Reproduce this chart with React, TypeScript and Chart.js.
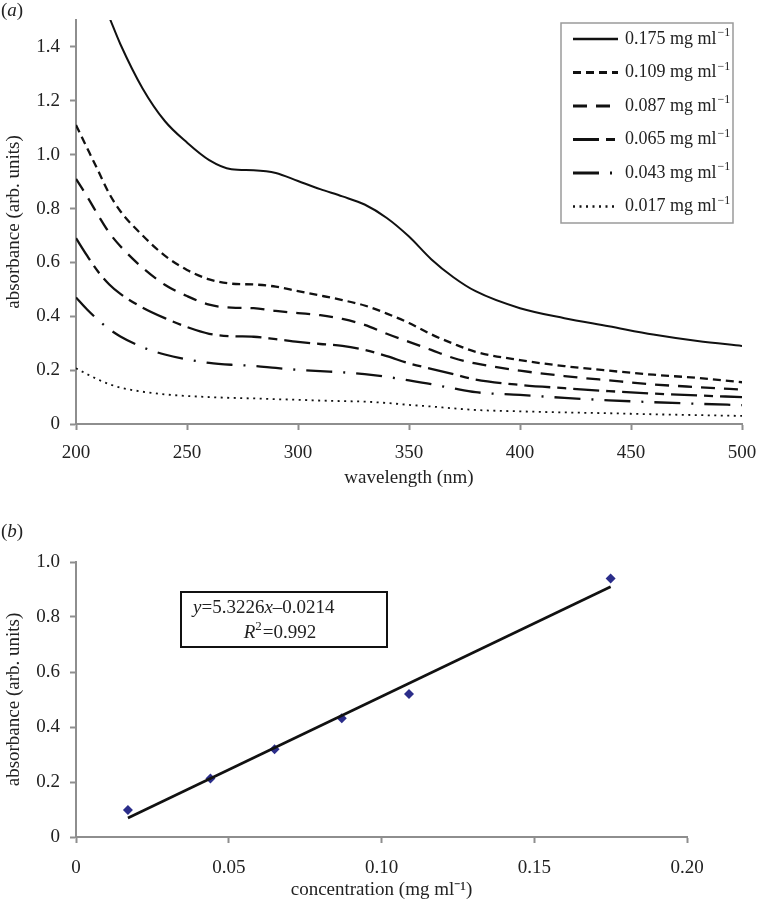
import React, { useEffect, useRef } from 'react';
import { Chart, registerables } from 'chart.js';
Chart.register(...registerables);

// ---------- data: panel (a) ----------
const wavelengths = [200, 205, 210, 215, 220, 230, 240, 250, 260, 270, 280, 290, 300, 310, 320, 330, 340, 350, 360, 370, 380, 400, 420, 440, 460, 480, 500];
const abs175 = [null, null, null, 1.51, 1.41, 1.246, 1.125, 1.045, 0.98, 0.946, 0.942, 0.932, 0.902, 0.872, 0.845, 0.815, 0.765, 0.696, 0.612, 0.545, 0.493, 0.43, 0.393, 0.363, 0.332, 0.308, 0.29];
const abs109 = [1.11, 1.025, 0.94, 0.855, 0.79, 0.7, 0.625, 0.572, 0.537, 0.521, 0.518, 0.51, 0.493, 0.477, 0.46, 0.44, 0.41, 0.375, 0.333, 0.298, 0.268, 0.237, 0.215, 0.198, 0.183, 0.171, 0.155];
const abs087 = [0.91, 0.845, 0.775, 0.71, 0.66, 0.58, 0.517, 0.475, 0.443, 0.432, 0.43, 0.42, 0.412, 0.404, 0.39, 0.368, 0.335, 0.305, 0.275, 0.245, 0.225, 0.198, 0.178, 0.162, 0.147, 0.137, 0.128];
const abs065 = [0.69, 0.625, 0.565, 0.518, 0.483, 0.432, 0.393, 0.36, 0.335, 0.326, 0.324, 0.315, 0.305, 0.297, 0.29, 0.275, 0.252, 0.225, 0.205, 0.185, 0.165, 0.145, 0.133, 0.122, 0.113, 0.106, 0.1];
const abs043 = [0.47, 0.425, 0.386, 0.352, 0.325, 0.285, 0.258, 0.24, 0.227, 0.22, 0.216, 0.208, 0.201, 0.196, 0.192, 0.185, 0.175, 0.162, 0.148, 0.132, 0.118, 0.108, 0.097, 0.088, 0.081, 0.075, 0.07];
const abs017 = [0.207, 0.185, 0.165, 0.148, 0.135, 0.12, 0.11, 0.104, 0.1, 0.097, 0.095, 0.092, 0.09, 0.087, 0.085, 0.083, 0.078, 0.071, 0.065, 0.058, 0.052, 0.047, 0.043, 0.04, 0.036, 0.033, 0.03];
const seriesLabels = ['0.175', '0.109', '0.087', '0.065', '0.043', '0.017'];
const seriesValues = [abs175, abs109, abs087, abs065, abs043, abs017];

// ---------- data: panel (b) ----------
const concentrations = [0.017, 0.044, 0.065, 0.087, 0.109, 0.175];
const peakAbsorbance = [0.098, 0.213, 0.319, 0.432, 0.52, 0.94];
const trendX = [0.017, 0.175];
const trendY = [0.069, 0.91];
const equationText = ['y', '=5.3226', 'x', '\u20130.0214'];
const r2Text = '=0.992';

// ---------- styles ----------
const SERIF = '"Liberation Serif", "Times New Roman", serif';
const AXIS_GREY = '#8e8e8e';
const TEXT = '#222';
const dashes: number[][] = [[], [8, 5], [14, 9], [26, 7, 9, 7], [26, 11, 2, 11], [2, 4.5]];
const widths = [2, 2.3, 2.3, 2.3, 2.3, 1.8];

function drawPanelLabel(ctx: CanvasRenderingContext2D, letter: string, x: number, y: number) {
  ctx.save();
  ctx.fillStyle = TEXT;
  ctx.textBaseline = 'middle';
  ctx.textAlign = 'left';
  ctx.font = `19px ${SERIF}`;
  ctx.fillText('(', x, y);
  let cx = x + ctx.measureText('(').width;
  ctx.font = `italic 19px ${SERIF}`;
  ctx.fillText(letter, cx, y);
  cx += ctx.measureText(letter).width;
  ctx.font = `19px ${SERIF}`;
  ctx.fillText(')', cx, y);
  ctx.restore();
}

const legendPlugin = {
  id: 'legendA',
  afterDraw(chart: any) {
    const { ctx, chartArea } = chart;
    const left = chartArea.right - 181;
    const top = chartArea.top + 3;
    const w = 172;
    const h = 200;
    ctx.save();
    ctx.strokeStyle = '#9a9a9a';
    ctx.lineWidth = 1.5;
    ctx.strokeRect(left, top, w, h);
    seriesLabels.forEach((lab, i) => {
      const y = top + 16 + i * 33.5;
      ctx.beginPath();
      ctx.setLineDash(dashes[i]);
      ctx.lineWidth = widths[i] + 0.5;
      ctx.strokeStyle = '#111';
      ctx.moveTo(left + 12, y);
      ctx.lineTo(left + 57, y);
      ctx.stroke();
      ctx.setLineDash([]);
      ctx.fillStyle = TEXT;
      ctx.textBaseline = 'middle';
      ctx.textAlign = 'left';
      ctx.font = `18px ${SERIF}`;
      const t = `${lab} mg ml`;
      const tx = left + 64;
      ctx.fillText(t, tx, y);
      const tw = ctx.measureText(t).width;
      ctx.font = `12px ${SERIF}`;
      ctx.fillText('\u22121', tx + tw + 1, y - 6);
    });
    drawPanelLabel(ctx, 'a', 1, 11);
    ctx.restore();
  },
};

const annotationPlugin = {
  id: 'annotB',
  afterDraw(chart: any) {
    const { ctx, chartArea } = chart;
    const left = chartArea.left + 105;
    const top = chartArea.top + 30;
    ctx.save();
    ctx.strokeStyle = '#111';
    ctx.lineWidth = 2;
    ctx.strokeRect(left, top, 206, 55);
    ctx.fillStyle = TEXT;
    ctx.textBaseline = 'middle';
    ctx.textAlign = 'left';
    let x = left + 12;
    const y1 = top + 16;
    equationText.forEach((s, i) => {
      ctx.font = (i % 2 === 0 ? 'italic ' : '') + `19px ${SERIF}`;
      ctx.fillText(s, x, y1);
      x += ctx.measureText(s).width;
    });
    const y2 = top + 41;
    ctx.font = `italic 19px ${SERIF}`;
    const wR = ctx.measureText('R').width;
    ctx.font = `13px ${SERIF}`;
    const w2 = ctx.measureText('2').width;
    ctx.font = `19px ${SERIF}`;
    const wRest = ctx.measureText(r2Text).width;
    const total = wR + w2 + 1 + wRest;
    let x2 = left + 99 - total / 2;
    ctx.font = `italic 19px ${SERIF}`;
    ctx.fillText('R', x2, y2);
    x2 += wR;
    ctx.font = `13px ${SERIF}`;
    ctx.fillText('2', x2, y2 - 6);
    x2 += w2 + 1;
    ctx.font = `19px ${SERIF}`;
    ctx.fillText(r2Text, x2, y2);
    drawPanelLabel(ctx, 'b', 1, 42);
    ctx.restore();
  },
};

function axisCommon() {
  return {
    grid: { display: true, drawOnChartArea: false, drawTicks: true, tickLength: 6, tickColor: AXIS_GREY, tickWidth: 2 },
    border: { display: true, color: AXIS_GREY, width: 2 },
  };
}

const fitX = (h: number) => (s: any) => { s.height = h; s.paddingLeft = 0; s.paddingRight = 0; };
const fitY = (w: number) => (s: any) => { s.width = w; s.paddingTop = 0; s.paddingBottom = 0; };

function PanelA() {
  const ref = useRef<HTMLCanvasElement>(null);
  useEffect(() => {
    const datasets = seriesValues.map((vals, i) => ({
      label: seriesLabels[i],
      data: wavelengths.map((w, j) => ({ x: w, y: vals[j] })),
      borderColor: '#111',
      borderWidth: widths[i],
      borderDash: dashes[i],
      pointRadius: 0,
      fill: false,
      cubicInterpolationMode: 'monotone' as const,
      spanGaps: false,
    }));
    const chart = new Chart(ref.current!, {
      type: 'line',
      data: { datasets },
      plugins: [legendPlugin],
      options: {
        animation: false,
        responsive: false,
        layout: { padding: { left: 0, right: 15, top: 20, bottom: 0 } },
        plugins: { legend: { display: false }, tooltip: { enabled: false } },
        scales: {
          x: {
            type: 'linear', min: 200, max: 500,
            ...axisCommon(),
            ticks: { stepSize: 50, padding: 12, color: TEXT, font: { family: SERIF, size: 19 }, maxRotation: 0 },
            title: { display: true, text: 'wavelength (nm)', color: TEXT, font: { family: SERIF, size: 19 }, padding: { top: 0, bottom: 1 } },
            afterFit: fitX(66),
          },
          y: {
            type: 'linear', min: 0, max: 1.5,
            ...axisCommon(),
            ticks: { stepSize: 0.2, includeBounds: false, padding: 10, color: TEXT, font: { family: SERIF, size: 19 }, callback: (v: any) => (v === 0 ? '0' : Number(v).toFixed(1)) },
            title: { display: true, text: 'absorbance (arb. units)', color: TEXT, font: { family: SERIF, size: 19 }, padding: { top: 3, bottom: 0 } },
            afterFit: fitY(76),
          },
        },
      },
    } as any);
    return () => chart.destroy();
  }, []);
  return <canvas ref={ref} width={757} height={490} style={{ position: 'absolute', left: 0, top: 0 }} />;
}

function PanelB() {
  const ref = useRef<HTMLCanvasElement>(null);
  useEffect(() => {
    const chart = new Chart(ref.current!, {
      type: 'scatter',
      data: {
        datasets: [
          {
            label: 'fit',
            type: 'line',
            data: trendX.map((x, i) => ({ x, y: trendY[i] })),
            borderColor: '#111',
            borderWidth: 2.6,
            pointRadius: 0,
            fill: false,
          },
          {
            label: 'absorbance',
            data: concentrations.map((x, i) => ({ x, y: peakAbsorbance[i] })),
            pointStyle: 'rectRot',
            pointRadius: 5,
            backgroundColor: '#2b2d8a',
            borderColor: '#2b2d8a',
            borderWidth: 0,
          },
        ],
      },
      plugins: [annotationPlugin],
      options: {
        animation: false,
        responsive: false,
        layout: { padding: { left: 0, right: 70, top: 72, bottom: 0 } },
        plugins: { legend: { display: false }, tooltip: { enabled: false } },
        scales: {
          x: {
            type: 'linear', min: 0, max: 0.2,
            ...axisCommon(),
            ticks: { stepSize: 0.05, padding: 14, color: TEXT, font: { family: SERIF, size: 19 }, maxRotation: 0, callback: (v: any) => (Math.abs(v) < 1e-9 ? '0' : Number(v).toFixed(2)) },
            title: { display: true, text: 'concentration (mg ml\u207B\u00B9)', color: TEXT, font: { family: SERIF, size: 19 }, padding: { top: 0, bottom: 3 } },
            afterFit: fitX(67),
          },
          y: {
            type: 'linear', min: 0, max: 1.0,
            ...axisCommon(),
            ticks: { stepSize: 0.2, padding: 10, color: TEXT, font: { family: SERIF, size: 19 }, callback: (v: any) => (Math.abs(v) < 1e-9 ? '0' : Number(v).toFixed(1)) },
            title: { display: true, text: 'absorbance (arb. units)', color: TEXT, font: { family: SERIF, size: 19 }, padding: { top: 3, bottom: 0 } },
            afterFit: fitY(76),
          },
        },
      },
    } as any);
    return () => chart.destroy();
  }, []);
  return <canvas ref={ref} width={757} height={414} style={{ position: 'absolute', left: 0, top: 490 }} />;
}

export default function App() {
  return (
    <div style={{ position: 'absolute', left: 0, top: 0, width: 757, height: 904, background: '#fff' }}>
      <PanelA />
      <PanelB />
    </div>
  );
}
